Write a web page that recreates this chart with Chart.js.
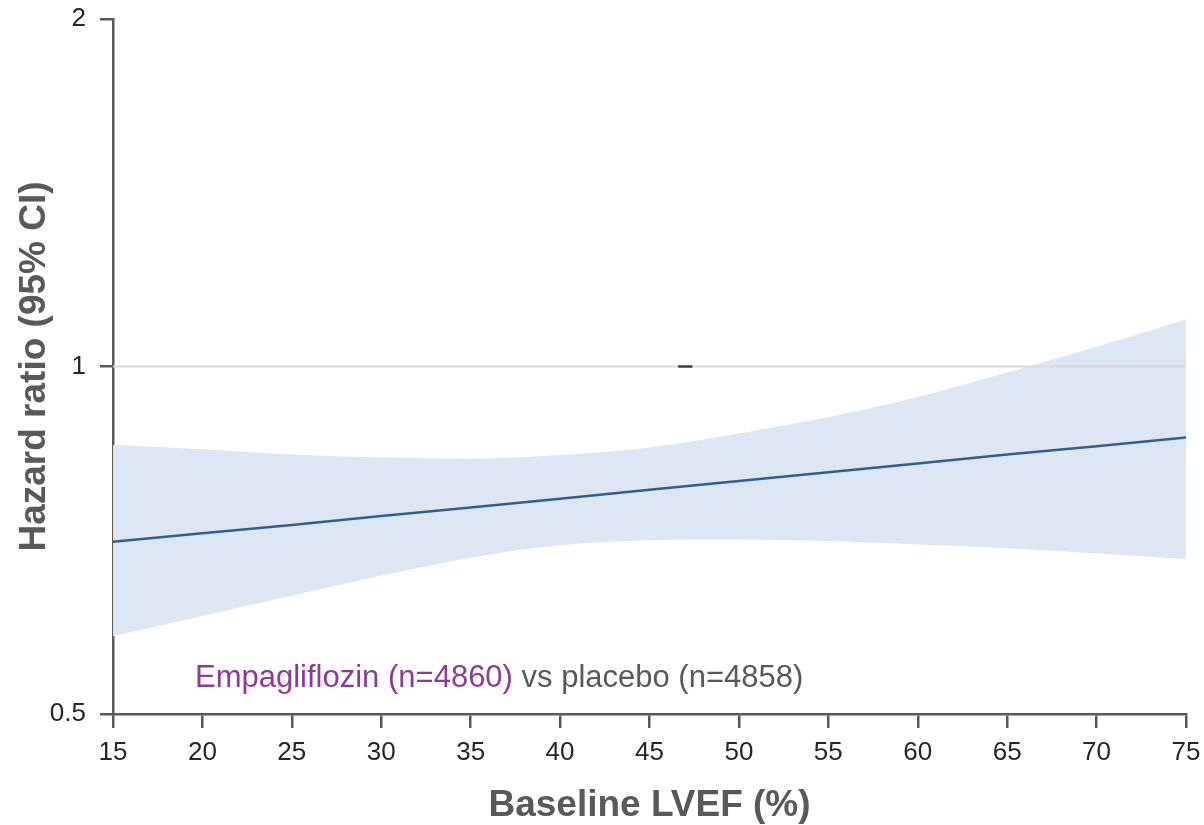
<!DOCTYPE html>
<html>
<head>
<meta charset="utf-8">
<script src="https://cdn.jsdelivr.net/npm/chart.js@4/dist/chart.umd.min.js"></script>
<style>
  html, body { margin: 0; padding: 0; background: #fff; }
  #wrap { width: 1204px; height: 825px; }
</style>
</head>
<body>
<div id="wrap"><canvas id="hr-chart"></canvas></div>
<script>
// baseline LVEF (%) and hazard ratio with 95% CI
const lvef = [15, 20, 25, 30, 35, 40, 45, 50, 55, 60, 65, 70, 75];
const hr = [0.705, 0.717, 0.729, 0.742, 0.755, 0.768, 0.782, 0.796, 0.810, 0.824, 0.839, 0.853, 0.868];
const ciHigh = [0.855, 0.848, 0.839, 0.834, 0.832, 0.838, 0.851, 0.875, 0.904, 0.941, 0.988, 1.040, 1.099];
const ciLow = [0.584, 0.608, 0.633, 0.659, 0.683, 0.700, 0.707, 0.708, 0.706, 0.701, 0.696, 0.689, 0.681];
const refX = [15, 75];
const refY = [1, 1];
const markX = [46.6, 47.4];
const markY = [1, 1];
const yTicks = [0.5, 1, 2];

const axisGrey = '#595959';
const toPoints = (xs, ys) => xs.map((x, i) => ({ x, y: ys[i] }));

Chart.defaults.font.family = '"Liberation Sans", Arial, sans-serif';

const notePlugin = {
  id: 'note',
  afterDatasetsDraw(chart) {
    const { ctx, chartArea } = chart;
    const first = 'Empagliflozin (n=4860)';
    const second = ' vs placebo (n=4858)';
    ctx.save();
    ctx.font = '31px "Liberation Sans", Arial, sans-serif';
    ctx.textBaseline = 'alphabetic';
    const x = chartArea.left + 82;
    const y = chartArea.bottom - 27;
    ctx.fillStyle = '#8e3a96';
    ctx.fillText(first, x, y);
    ctx.fillStyle = axisGrey;
    ctx.fillText(second, x + ctx.measureText(first).width, y);
    ctx.restore();
  }
};

// drop the label overhang so the layout padding alone sets the plot edges
function noOverhang(scale) {
  scale.paddingTop = 0;
  scale.paddingBottom = 0;
  scale.paddingLeft = 0;
  scale.paddingRight = 0;
}

new Chart(document.getElementById('hr-chart'), {
  type: 'line',
  data: {
    datasets: [
      {
        label: 'HR',
        data: toPoints(lvef, hr),
        borderColor: '#2f5f8f',
        borderWidth: 2.5,
        pointRadius: 0,
        fill: false,
        order: 0
      },
      {
        label: 'mark',
        data: toPoints(markX, markY),
        borderColor: '#404040',
        borderWidth: 2.5,
        pointRadius: 0,
        fill: false,
        order: 1
      },
      {
        label: 'reference',
        data: toPoints(refX, refY),
        borderColor: '#d9d9d9',
        borderWidth: 2,
        pointRadius: 0,
        fill: false,
        order: 2
      },
      {
        label: 'upper CI',
        data: toPoints(lvef, ciHigh),
        borderWidth: 0,
        borderColor: 'rgba(0,0,0,0)',
        backgroundColor: '#dce7f3',
        pointRadius: 0,
        cubicInterpolationMode: 'monotone',
        fill: '+1',
        order: 3
      },
      {
        label: 'lower CI',
        data: toPoints(lvef, ciLow),
        borderWidth: 0,
        borderColor: 'rgba(0,0,0,0)',
        pointRadius: 0,
        cubicInterpolationMode: 'monotone',
        fill: false,
        order: 4
      }
    ]
  },
  options: {
    responsive: true,
    maintainAspectRatio: false,
    animation: false,
    layout: { padding: { top: 19, right: 18, left: 0, bottom: 0 } },
    plugins: {
      legend: { display: false },
      tooltip: { enabled: false },
      title: { display: false }
    },
    scales: {
      x: {
        type: 'linear',
        min: 15,
        max: 75,
        ticks: { stepSize: 5, color: '#262626', font: { size: 26 }, padding: 9 },
        grid: { drawOnChartArea: false, color: axisGrey, lineWidth: 2.5, tickLength: 14 },
        border: { color: axisGrey, width: 2.5 },
        title: {
          display: true,
          text: 'Baseline LVEF (%)',
          color: axisGrey,
          font: { size: 37, weight: 'bold' },
          padding: { top: 0, bottom: -3 }
        },
        afterFit(scale) {
          scale.height = 111;
          noOverhang(scale);
        }
      },
      y: {
        type: 'logarithmic',
        min: 0.5,
        max: 2,
        afterBuildTicks(scale) { scale.ticks = yTicks.map(v => ({ value: v })); },
        ticks: {
          color: '#262626',
          font: { size: 26 },
          padding: 14,
          callback: value => String(value)
        },
        grid: { drawOnChartArea: false, color: axisGrey, lineWidth: 2.5, tickLength: 13 },
        border: { color: axisGrey, width: 2.5 },
        title: {
          display: true,
          text: 'Hazard ratio (95% CI)',
          color: axisGrey,
          font: { size: 37, weight: 'bold' },
          padding: { top: 13, bottom: 0 }
        },
        afterFit(scale) {
          scale.width = 113;
          noOverhang(scale);
        }
      }
    }
  },
  plugins: [notePlugin]
});
</script>
</body>
</html>
